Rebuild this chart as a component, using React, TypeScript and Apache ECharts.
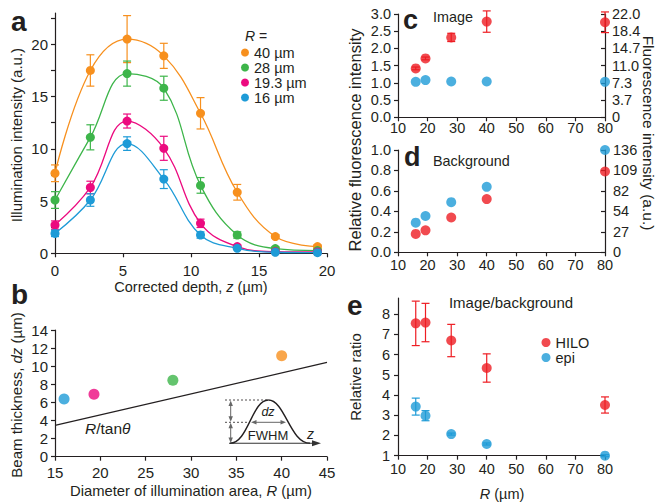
import React, { useEffect, useRef } from 'react';
import * as echarts from 'echarts';

const FONT = '"Liberation Sans", Arial, Helvetica, sans-serif';
const INK = '#231f20';
const ORANGE = '#F7901E';
const GREEN = '#3DB54A';
const MAGENTA = '#EC0A7F';
const BLUE = '#1E9BD7';
const RED = '#EE1D23';

// ---- Panel a: illumination intensity vs corrected depth ----
const aDepth = [0, 2.6, 5.3, 8.0, 10.7, 13.4, 16.2, 19.3];
const aR40 = [7.66, 17.5, 20.5, 18.9, 13.4, 5.84, 1.6, 0.64];
const aR40Err = [0.8, 1.5, 2.25, 1.2, 1.5, 0.75, 0.15, 0.12];
const aR28 = [5.1, 11.1, 17.2, 15.8, 6.5, 1.75, 0.45, 0.26];
const aR28Err = [0.8, 1.2, 1.2, 1.15, 0.75, 0.3, 0.1, 0.1];
const aR193 = [2.7, 6.3, 12.66, 10.05, 2.87, 0.64, 0.16, 0.13];
const aR193Err = [0.4, 0.6, 0.67, 1.15, 0.4, 0.15, 0.1, 0.1];
const aR16 = [1.9, 5.1, 10.5, 7.1, 1.75, 0.48, 0.1, 0.06];
const aR16Err = [0.3, 0.6, 0.65, 0.9, 0.3, 0.1, 0.05, 0.05];
const aNames = ['40 µm', '28 µm', '19.3 µm', '16 µm'];
const aYTicks = [0, 2.5, 5, 7.5, 10, 12.5, 15, 17.5, 20, 22.5];
const aYLabels = [0, 5, 10, 15, 20];

// ---- Panel b: beam thickness vs diameter ----
const bDiameter = [16, 19.3, 28, 40];
const bThickness = [6.37, 6.9, 8.45, 11.15];
const bLineR = [15, 45];
const bLineDz = [3.47, 10.42];

// ---- Panels c, d, e ----
const rValues = [16, 19.3, 28, 40, 80];
const cHilo = [1.42, 1.71, 2.32, 2.78, 2.76];
const cHiloErr = [0.04, 0.04, 0.12, 0.31, 0.3];
const cEpi = [1.03, 1.08, 1.04, 1.04, 1.03];
const cRightLabels = ['0', '3.7', '7.3', '11.0', '14.7', '18.4', '22.0'];
const cRightMax = 22;
const dHilo = [0.18, 0.215, 0.34, 0.52, 0.79];
const dEpi = [0.29, 0.355, 0.49, 0.64, 1.0];
const dRightLabels = ['0', '27', '54', '82', '109', '136'];
const dRightMax = 136;
const eHilo = [7.55, 7.59, 6.7, 5.34, 3.51];
const eHiloErr = [1.1, 0.95, 0.8, 0.7, 0.4];
const eEpi = [3.43, 2.98, 2.07, 1.58, 1.0];
const eEpiErr = [0.42, 0.25, 0.05, 0.05, 0.05];
const eYTicks = [1, 2, 3, 4, 5, 6, 7, 8];

const zip = (xs: number[], ys: number[]) => xs.map((x, i) => [x, ys[i]]);
const zip3 = (xs: number[], ys: number[], es: number[]) => xs.map((x, i) => [x, ys[i], es[i]]);

function errSeries(xs: number[], ys: number[], es: number[], color: string, gi: number, yi: number) {
  return {
    type: 'custom',
    xAxisIndex: gi,
    yAxisIndex: yi,
    z: 1,
    silent: true,
    encode: { x: 0, y: 1 },
    data: zip3(xs, ys, es),
    renderItem: (params: any, api: any) => {
      const x = api.value(0);
      const y = api.value(1);
      const e = api.value(2);
      const top = api.coord([x, y + e]);
      const bot = api.coord([x, y - e]);
      const w = 4;
      const st = { stroke: color, lineWidth: 1.2 };
      return {
        type: 'group',
        children: [
          { type: 'line', shape: { x1: top[0], y1: top[1], x2: bot[0], y2: bot[1] }, style: st },
          { type: 'line', shape: { x1: top[0] - w, y1: top[1], x2: top[0] + w, y2: top[1] }, style: st },
          { type: 'line', shape: { x1: bot[0] - w, y1: bot[1], x2: bot[0] + w, y2: bot[1] }, style: st },
        ],
      };
    },
  };
}

function axis(o: any) {
  const { fontSize = 14.5, margin = 8, tickInside = false, tickVals, labelVals, formatter, ...rest } = o;
  const axisTick: any = { show: true, length: 4, inside: tickInside, lineStyle: { color: INK, width: 1.2 } };
  if (tickVals) axisTick.customValues = tickVals;
  const axisLabel: any = { color: INK, fontSize, fontFamily: FONT, margin };
  if (labelVals) axisLabel.customValues = labelVals;
  if (formatter) axisLabel.formatter = formatter;
  return {
    type: 'value',
    axisLine: { show: true, onZero: false, lineStyle: { color: INK, width: 1.2 } },
    axisTick,
    axisLabel,
    splitLine: { show: false },
    ...rest,
  };
}

function txt(x: number, y: number, text: string, o: any = {}) {
  const fontSize = o.fontSize || 15;
  return {
    type: 'text',
    x,
    y,
    rotation: o.rotation || 0,
    z: 50,
    style: {
      text,
      fill: INK,
      fontFamily: FONT,
      fontSize,
      fontWeight: o.fontWeight || 'normal',
      fontStyle: o.fontStyle || 'normal',
      align: o.align || 'center',
      verticalAlign: 'middle',
      rich: {
        i: { fontStyle: 'italic', fontFamily: FONT, fontSize, fill: INK },
        n: { fontFamily: FONT, fontSize, fill: INK },
      },
    },
  };
}

function line(x1: number, y1: number, x2: number, y2: number, color: string, lw = 1, dash?: number[]) {
  return { type: 'line', z: 50, shape: { x1, y1, x2, y2 }, style: { stroke: color, lineWidth: lw, lineDash: dash } };
}
function tri(points: number[][], color: string) {
  return { type: 'polygon', z: 50, shape: { points }, style: { fill: color } };
}

export default function App() {
  const ref = useRef<HTMLDivElement>(null);
  useEffect(() => {
    if (!ref.current) return;
    const chart = echarts.init(ref.current, undefined, { renderer: 'svg' });

    const aSets = [
      [aR40, aR40Err, ORANGE],
      [aR28, aR28Err, GREEN],
      [aR193, aR193Err, MAGENTA],
      [aR16, aR16Err, BLUE],
    ] as [number[], number[], string][];

    const series: any[] = [];
    aSets.forEach(([vals, errs, color], k) => {
      series.push(errSeries(aDepth, vals, errs, color, 0, 0));
      series.push({
        type: 'line',
        name: aNames[k],
        xAxisIndex: 0,
        yAxisIndex: 0,
        data: zip(aDepth, vals),
        smooth: 0.4,
        symbol: 'circle',
        symbolSize: 9,
        z: 3,
        color,
        itemStyle: { color },
        lineStyle: { color, width: 1.3 },
      });
    });

    // panel b
    series.push({
      type: 'line',
      xAxisIndex: 1,
      yAxisIndex: 1,
      data: zip(bLineR, bLineDz),
      symbol: 'none',
      lineStyle: { color: INK, width: 1.2 },
    });
    const bColors = [BLUE, MAGENTA, GREEN, ORANGE];
    series.push({
      type: 'scatter',
      xAxisIndex: 1,
      yAxisIndex: 1,
      symbolSize: 11,
      data: bDiameter.map((x, i) => ({ value: [x, bThickness[i]], itemStyle: { color: bColors[i] } })),
    });

    // panel c
    series.push(errSeries(rValues, cHilo, cHiloErr, RED, 2, 2));
    series.push({ type: 'scatter', name: 'HILO image', xAxisIndex: 2, yAxisIndex: 2, symbolSize: 10, clip: false, itemStyle: { color: RED }, data: zip(rValues, cHilo), z: 3 });
    series.push({ type: 'scatter', name: 'epi image', xAxisIndex: 2, yAxisIndex: 2, symbolSize: 10, clip: false, itemStyle: { color: BLUE }, data: zip(rValues, cEpi), z: 3 });
    // panel d
    series.push({ type: 'scatter', name: 'HILO background', xAxisIndex: 3, yAxisIndex: 4, symbolSize: 10, clip: false, itemStyle: { color: RED }, data: zip(rValues, dHilo), z: 3 });
    series.push({ type: 'scatter', name: 'epi background', xAxisIndex: 3, yAxisIndex: 4, symbolSize: 10, clip: false, itemStyle: { color: BLUE }, data: zip(rValues, dEpi), z: 3 });
    // panel e
    series.push(errSeries(rValues, eHilo, eHiloErr, RED, 4, 6));
    series.push(errSeries(rValues, eEpi, eEpiErr, BLUE, 4, 6));
    series.push({ type: 'scatter', name: 'HILO', xAxisIndex: 4, yAxisIndex: 6, symbolSize: 10, clip: false, itemStyle: { color: RED }, data: zip(rValues, eHilo), z: 3 });
    series.push({ type: 'scatter', name: 'epi', xAxisIndex: 4, yAxisIndex: 6, symbolSize: 10, clip: false, itemStyle: { color: BLUE }, data: zip(rValues, eEpi), z: 3 });

    const cStep = cRightMax / (cRightLabels.length - 1);
    const dStep = dRightMax / (dRightLabels.length - 1);
    const cRightVals = cRightLabels.map((_, i) => i * cStep);
    const dRightVals = dRightLabels.map((_, i) => i * dStep);

    const graphic: any[] = [
      txt(11, 21, 'a', { fontSize: 28, fontWeight: 'bold', align: 'left' }),
      txt(11, 294, 'b', { fontSize: 28, fontWeight: 'bold', align: 'left' }),
      txt(403, 20, 'c', { fontSize: 27, fontWeight: 'bold', align: 'left' }),
      txt(404, 157, 'd', { fontSize: 27, fontWeight: 'bold', align: 'left' }),
      txt(347, 305, 'e', { fontSize: 28, fontWeight: 'bold', align: 'left' }),
      txt(16, 135, 'Illumination intensity (a.u.)', { rotation: Math.PI / 2 }),
      txt(191, 287, 'Corrected depth, {i|z} (µm)', { fontSize: 14.5 }),
      txt(245, 36, '{i|R} =', { align: 'left', fontSize: 14 }),
      txt(16, 395, 'Beam thickness, {i|dz} (µm)', { rotation: Math.PI / 2 }),
      txt(191, 491, 'Diameter of illumination area, {i|R} (µm)', { fontSize: 14.8 }),
      txt(85, 428, '{i|R}/tan{i|θ}', { align: 'left', fontSize: 15.5 }),
      txt(355, 140, 'Relative fluorescence intensity', { rotation: Math.PI / 2, fontSize: 16.5 }),
      txt(648, 133, 'Fluorescence intensity (a.u.)', { rotation: -Math.PI / 2, fontSize: 15.5 }),
      txt(433, 17, 'Image', { align: 'left', fontSize: 14.4 }),
      txt(433, 161, 'Background', { align: 'left', fontSize: 14.4 }),
      txt(511, 302, 'Image/background', { fontSize: 15 }),
      txt(355, 377, 'Relative ratio', { rotation: Math.PI / 2 }),
      txt(502, 494, '{i|R} (µm)', { fontSize: 14.5 }),
      // inset FWHM sketch
      line(225, 400, 268, 400, INK, 0.8, [2, 2]),
      line(225, 422.3, 250, 422.3, INK, 0.8, [2, 2]),
      {
        type: 'bezierCurve', z: 50,
        shape: { x1: 230, y1: 443.3, cpx1: 248, cpy1: 443.3, cpx2: 252, cpy2: 400, x2: 268.3, y2: 400 },
        style: { stroke: INK, lineWidth: 1.4, fill: 'none' },
      },
      {
        type: 'bezierCurve', z: 50,
        shape: { x1: 268.3, y1: 400, cpx1: 285, cpy1: 400, cpx2: 290, cpy2: 443.3, x2: 310, y2: 443.3 },
        style: { stroke: INK, lineWidth: 1.4, fill: 'none' },
      },
      line(229, 443.3, 314, 443.3, '#333', 1.1),
      tri([[321, 443.3], [312, 440.3], [312, 446.3]], '#333'),
      line(230.7, 403, 230.7, 420, '#666', 1),
      tri([[230.7, 400.5], [228.5, 406], [232.9, 406]], '#666'),
      tri([[230.7, 421.8], [228.5, 416.3], [232.9, 416.3]], '#666'),
      line(230.7, 425, 230.7, 441, '#666', 1),
      tri([[230.7, 422.8], [228.5, 428.3], [232.9, 428.3]], '#666'),
      tri([[230.7, 443], [228.5, 437.5], [232.9, 437.5]], '#666'),
      line(254, 422.3, 283, 422.3, '#666', 1),
      tri([[251, 422.3], [256.5, 420.1], [256.5, 424.5]], '#666'),
      tri([[286, 422.3], [280.5, 420.1], [280.5, 424.5]], '#666'),
      txt(268, 412, '{i|dz}', { fontSize: 12.5 }),
      txt(268, 435, 'FWHM', { fontSize: 13 }),
      txt(310.5, 434, '{i|z}', { fontSize: 14 }),
    ];

    chart.setOption({
      animation: false,
      textStyle: { fontFamily: FONT },
      grid: [
        { left: 55, top: 13, width: 272, height: 240.3 },
        { left: 55, top: 330, width: 272, height: 126.7 },
        { left: 398, top: 14, width: 207, height: 103.3 },
        { left: 398, top: 150, width: 207, height: 102.3 },
        { left: 398, top: 298.1, width: 207, height: 157.6 },
      ],
      xAxis: [
        axis({ gridIndex: 0, min: 0, max: 20, interval: 5, fontSize: 15, margin: 10 }),
        axis({ gridIndex: 1, min: 15, max: 45, interval: 5, fontSize: 15, margin: 8 }),
        axis({ gridIndex: 2, min: 10, max: 80, interval: 10, margin: 3 }),
        axis({ gridIndex: 3, min: 10, max: 80, interval: 10, margin: 5 }),
        axis({ gridIndex: 4, min: 10, max: 80, interval: 10, margin: 6 }),
      ],
      yAxis: [
        axis({ gridIndex: 0, min: 0, max: 23, interval: 5, fontSize: 15, margin: 7, tickVals: aYTicks, labelVals: aYLabels }),
        axis({ gridIndex: 1, min: 0, max: 14, interval: 2, fontSize: 15, margin: 7 }),
        axis({ gridIndex: 2, min: 0, max: 3, interval: 0.5, margin: 7, formatter: (v: number) => v.toFixed(1) }),
        axis({
          gridIndex: 2, position: 'right', min: 0, max: cRightMax, tickInside: true, margin: 7,
          tickVals: cRightVals, labelVals: cRightVals,
          formatter: (v: number) => cRightLabels[Math.round(v / cStep)],
        }),
        axis({ gridIndex: 3, min: 0, max: 1, interval: 0.2, margin: 7, formatter: (v: number) => v.toFixed(1) }),
        axis({
          gridIndex: 3, position: 'right', min: 0, max: dRightMax, tickInside: true, margin: 8,
          tickVals: dRightVals, labelVals: dRightVals,
          formatter: (v: number) => dRightLabels[Math.round(v / dStep)],
        }),
        axis({ gridIndex: 4, min: 1, max: 8.8, interval: 1, margin: 8, tickVals: eYTicks, labelVals: eYTicks }),
      ],
      legend: [
        {
          data: aNames,
          orient: 'vertical',
          left: 241,
          top: 45,
          padding: 0,
          itemGap: 0,
          itemWidth: 8,
          itemHeight: 8,
          icon: 'circle',
          selectedMode: false,
          textStyle: { color: INK, fontSize: 14.5, fontFamily: FONT },
        },
        {
          data: ['HILO', 'epi'],
          orient: 'vertical',
          left: 541.5,
          top: 335,
          padding: 0,
          itemGap: 0,
          itemWidth: 9,
          itemHeight: 9,
          icon: 'circle',
          selectedMode: false,
          textStyle: { color: INK, fontSize: 14.5, fontFamily: FONT },
        },
      ],
      series,
      graphic,
    });
    return () => chart.dispose();
  }, []);
  return <div ref={ref} style={{ position: 'absolute', left: 0, top: 0, width: 657, height: 502 }} />;
}
